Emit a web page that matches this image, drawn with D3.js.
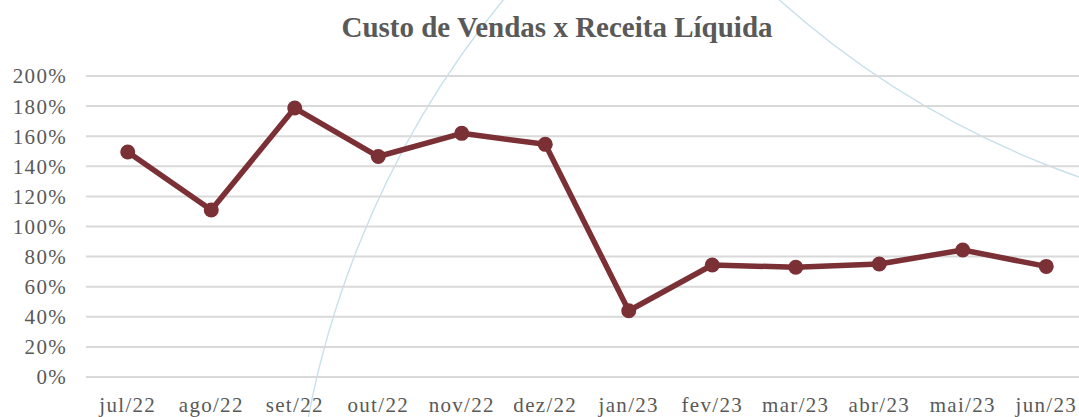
<!DOCTYPE html>
<html>
<head>
<meta charset="utf-8">
<script src="https://cdn.jsdelivr.net/npm/d3@7"></script>
<style>
  body { margin: 0; background: #fff; }
  svg text { font-family: "Liberation Serif", "DejaVu Serif", serif; fill: #595959; }
</style>
</head>
<body>
<div id="chart"></div>
<script>
// Data
const months = ['jul/22', 'ago/22', 'set/22', 'out/22', 'nov/22', 'dez/22',
  'jan/23', 'fev/23', 'mar/23', 'abr/23', 'mai/23', 'jun/23']
const ratio = [1.495, 1.11, 1.787, 1.465, 1.619, 1.546, 0.44, 0.744, 0.729, 0.751, 0.844, 0.735]
const yTicks = [0, 0.2, 0.4, 0.6, 0.8, 1.0, 1.2, 1.4, 1.6, 1.8, 2.0]

const width = 1079
const height = 417
const lineColor = '#7B3035'
const serif = '"Liberation Serif", "DejaVu Serif", serif'

const svg = d3.select('#chart')
  .append('svg')
  .attr('width', width)
  .attr('height', height)

// Decorative background arcs (slide design)
const deco = svg.append('g')
  .attr('fill', 'none')
  .attr('stroke', '#C8E0EC')
  .attr('stroke-width', 1.4)
deco.append('circle').attr('cx', 1227).attr('cy', 592).attr('r', 935)
deco.append('circle').attr('cx', 1377).attr('cy', -669).attr('r', 897)

const x = d3.scaleBand()
  .domain(months)
  .range([86, 1088])

const y = d3.scaleLinear()
  .domain([0, 2])
  .range([377, 76])

// Gridlines
svg.append('g')
  .selectAll('line')
  .data(yTicks)
  .enter()
  .append('line')
  .attr('x1', 86)
  .attr('x2', width)
  .attr('y1', d => y(d))
  .attr('y2', d => y(d))
  .attr('stroke', '#D9D9D9')
  .attr('stroke-width', 2)

// Y axis labels
const yAxis = svg.append('g')
  .attr('transform', 'translate(67, 0)')
  .call(d3.axisLeft(y).tickValues(yTicks).tickFormat(d3.format('.0%')).tickSize(0).tickPadding(0))
  .attr('font-family', serif)
  .attr('font-size', 21)
  .attr('letter-spacing', '1.3px')
yAxis.select('.domain').remove()
yAxis.selectAll('text')
  .attr('dy', '0.33em')

// X axis labels
const xAxis = svg.append('g')
  .attr('transform', 'translate(0, 397)')
  .call(d3.axisBottom(x).tickSize(0).tickPadding(0))
  .attr('font-family', serif)
  .attr('font-size', 21)
  .attr('letter-spacing', '1.3px')
xAxis.select('.domain').remove()
xAxis.selectAll('text')
  .attr('dy', '0.72em')

// Title
svg.append('text')
  .attr('x', 557)
  .attr('y', 37)
  .attr('text-anchor', 'middle')
  .attr('font-family', serif)
  .attr('font-size', 29)
  .attr('font-weight', 'bold')
  .text('Custo de Vendas x Receita Líquida')

// Line and markers
const line = d3.line()
  .x((d, i) => x(months[i]) + x.bandwidth() / 2)
  .y(d => y(d))

svg.append('path')
  .datum(ratio)
  .attr('d', line)
  .attr('fill', 'none')
  .attr('stroke', lineColor)
  .attr('stroke-width', 5.5)
  .attr('stroke-linejoin', 'round')

svg.append('g')
  .selectAll('circle')
  .data(ratio)
  .enter()
  .append('circle')
  .attr('cx', (d, i) => x(months[i]) + x.bandwidth() / 2)
  .attr('cy', d => y(d))
  .attr('r', 7.5)
  .attr('fill', lineColor)
</script>
</body>
</html>
